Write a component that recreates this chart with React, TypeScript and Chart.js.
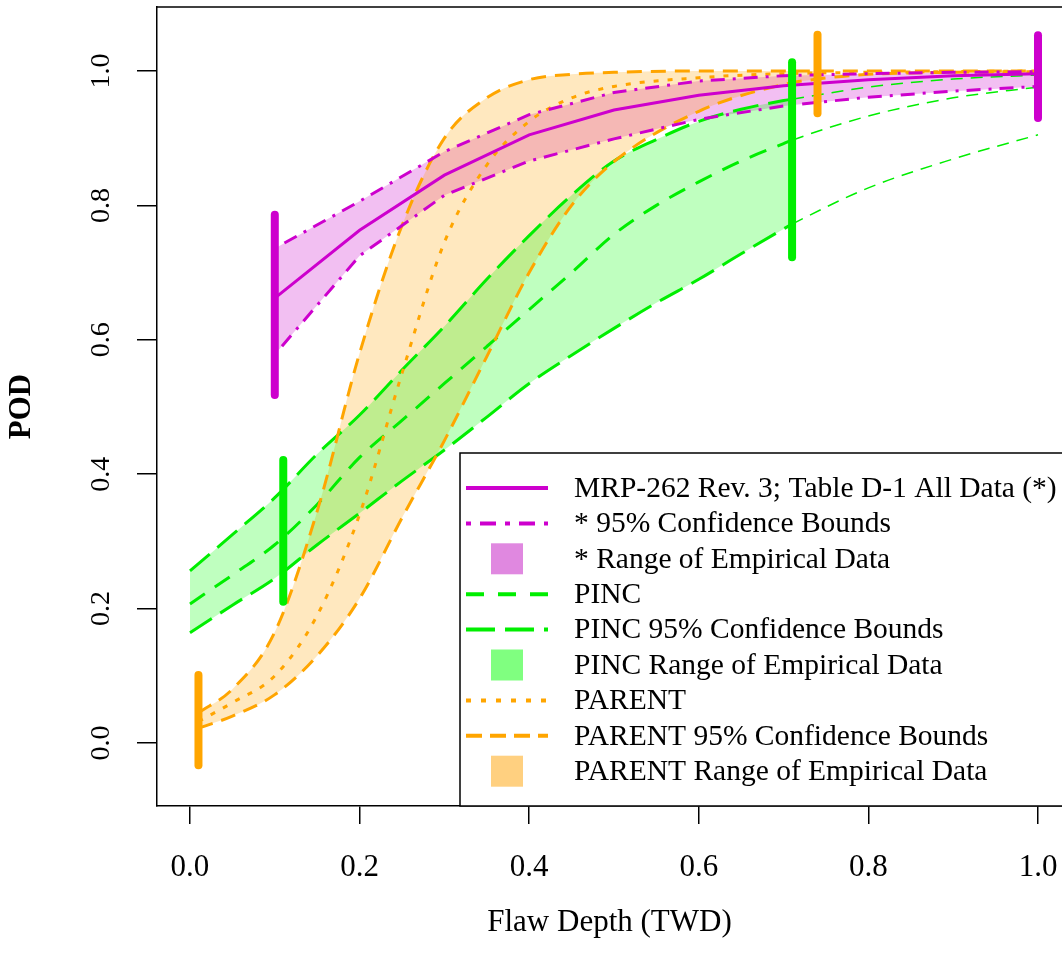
import React, { useEffect, useRef } from 'react';
import { Chart, registerables } from 'chart.js';

Chart.register(...registerables);

// ---------------- data ----------------
const X_TICKS = [0, 0.2, 0.4, 0.6, 0.8, 1.0];
const X_TICK_LABELS = ['0.0', '0.2', '0.4', '0.6', '0.8', '1.0'];
const Y_TICKS = [0, 0.2, 0.4, 0.6, 0.8, 1.0];
const Y_TICK_LABELS = ['0.0', '0.2', '0.4', '0.6', '0.8', '1.0'];

// MRP-262 Rev. 3; Table D-1 All Data
const MRP_X = [0.1, 0.2, 0.3, 0.4, 0.5, 0.6, 0.7, 0.8, 0.9, 1.0];
const MRP_POD = [0.662, 0.763, 0.845, 0.905, 0.942, 0.964, 0.978, 0.987, 0.993, 0.996];
const MRP_UPPER = [0.736, 0.806, 0.88, 0.935, 0.968, 0.985, 0.993, 0.996, 0.998, 0.999];
const MRP_LOWER = [0.578, 0.725, 0.815, 0.866, 0.899, 0.928, 0.948, 0.961, 0.97, 0.977];
const MRP_BAR_X = [0.1, 1.0];
const MRP_BAR_LO = [0.518, 0.93];
const MRP_BAR_HI = [0.786, 1.053];
const MRP_RANGE = [0.1, 1.0];

// PINC
const PINC_X = [0, 0.05, 0.1, 0.15, 0.2, 0.25, 0.3, 0.35, 0.4, 0.45, 0.5, 0.55, 0.6, 0.65, 0.7, 0.71, 0.8, 0.9, 1.0];
const PINC_POD = [0.207, 0.25, 0.295, 0.355, 0.425, 0.48, 0.535, 0.59, 0.645, 0.7, 0.757, 0.8, 0.835, 0.866, 0.892, 0.897, 0.933, 0.96, 0.976];
const PINC_UPPER = [0.256, 0.31, 0.365, 0.43, 0.488, 0.555, 0.62, 0.69, 0.755, 0.815, 0.866, 0.898, 0.925, 0.943, 0.956, 0.958, 0.976, 0.988, 0.994];
const PINC_LOWER = [0.164, 0.205, 0.245, 0.295, 0.342, 0.39, 0.436, 0.485, 0.535, 0.577, 0.617, 0.655, 0.69, 0.728, 0.765, 0.772, 0.826, 0.869, 0.905];
const PINC_BAR_X = [0.11, 0.71];
const PINC_BAR_LO = [0.21, 0.723];
const PINC_BAR_HI = [0.421, 1.013];
const PINC_RANGE = [0, 0.71];

// PARENT
const PARENT_X = [0.01, 0.05, 0.1, 0.15, 0.2, 0.25, 0.3, 0.35, 0.4, 0.45, 0.5, 0.6, 0.7, 0.74, 0.8, 0.9, 1.0];
const PARENT_POD = [0.032, 0.06, 0.1, 0.19, 0.34, 0.55, 0.745, 0.86, 0.925, 0.96, 0.977, 0.99, 0.996, 0.997, 0.998, 0.999, 1.0];
const PARENT_UPPER = [0.045, 0.08, 0.165, 0.345, 0.58, 0.77, 0.9, 0.96, 0.987, 0.995, 0.998, 1.0, 1.0, 1.0, 1.0, 1.0, 1.0];
const PARENT_LOWER = [0.022, 0.04, 0.072, 0.13, 0.215, 0.335, 0.45, 0.575, 0.7, 0.8, 0.865, 0.94, 0.98, 0.988, 0.995, 0.998, 0.999];
const PARENT_BAR_X = [0.01, 0.74];
const PARENT_BAR_LO = [-0.033, 0.937];
const PARENT_BAR_HI = [0.101, 1.054];
const PARENT_RANGE = [0.01, 0.74];

const LEGEND_LABELS = [
  'MRP-262 Rev. 3; Table D-1 All Data (*)',
  '* 95% Confidence Bounds',
  '* Range of Empirical Data',
  'PINC',
  'PINC 95% Confidence Bounds',
  'PINC Range of Empirical Data',
  'PARENT',
  'PARENT 95% Confidence Bounds',
  'PARENT Range of Empirical Data',
];

// ---------------- styles ----------------
const MAGENTA = '#CD00CD';
const GREEN = '#00EE00';
const ORANGE = '#FFA500';
const MAGENTA_FILL = 'rgba(205,0,205,0.25)';
const GREEN_FILL = 'rgba(0,255,0,0.25)';
const ORANGE_FILL = 'rgba(255,165,0,0.25)';
const MAGENTA_SWATCH = '#E088E0';
const GREEN_SWATCH = '#80FF80';
const ORANGE_SWATCH = '#FFD080';
const FONT = "'Liberation Serif', 'Times New Roman', serif";

const DASH_MRP_CI = [3, 8, 14, 8];
const DASH_PINC = [18, 12];
const DASH_PINC_CI = [26, 10];
const DASH_PARENT = [5, 9];
const DASH_PARENT_CI = [15, 9];
const DASH_THIN = [12, 8];

const pts = (xs: number[], ys: number[], range?: number[]) =>
  xs
    .map((x, i) => ({ x, y: ys[i] }))
    .filter((p) => !range || (p.x >= range[0] - 1e-9 && p.x <= range[1] + 1e-9));

const legendPlugin = {
  id: 'podLegend',
  afterDraw(chart: any) {
    const { ctx, chartArea: a } = chart;
    ctx.save();
    // top frame line
    ctx.strokeStyle = '#000';
    ctx.lineWidth = 1.5;
    ctx.beginPath();
    ctx.moveTo(a.left, a.top);
    ctx.lineTo(a.right, a.top);
    ctx.stroke();

    const bx = a.left + 303;
    const by = a.top + 446;
    ctx.fillStyle = '#fff';
    ctx.fillRect(bx, by, a.right - bx + 10, a.bottom - by);
    ctx.strokeStyle = '#000';
    ctx.lineWidth = 1.5;
    ctx.strokeRect(bx, by, a.right - bx + 20, a.bottom - by);

    const rowH = 35.4;
    const y0 = by + 35;
    const lx0 = bx + 6;
    const lx1 = bx + 88;
    const items: any[] = [
      { type: 'line', color: MAGENTA, dash: [], w: 4 },
      { type: 'line', color: MAGENTA, dash: [5, 9, 16, 9], w: 4 },
      { type: 'box', color: MAGENTA_SWATCH },
      { type: 'line', color: GREEN, dash: [18, 14], w: 4 },
      { type: 'line', color: GREEN, dash: [29, 10], w: 4 },
      { type: 'box', color: GREEN_SWATCH },
      { type: 'line', color: ORANGE, dash: [5, 10], w: 4 },
      { type: 'line', color: ORANGE, dash: [16, 8], w: 4 },
      { type: 'box', color: ORANGE_SWATCH },
    ];
    ctx.font = `29.5px ${FONT}`;
    ctx.textBaseline = 'middle';
    ctx.textAlign = 'left';
    items.forEach((it, i) => {
      const y = y0 + i * rowH;
      if (it.type === 'line') {
        ctx.strokeStyle = it.color;
        ctx.lineWidth = it.w;
        ctx.setLineDash(it.dash);
        ctx.lineCap = 'butt';
        ctx.beginPath();
        ctx.moveTo(lx0, y);
        ctx.lineTo(lx1, y);
        ctx.stroke();
        ctx.setLineDash([]);
      } else {
        ctx.fillStyle = it.color;
        ctx.fillRect(bx + 31, y - 15.5, 32, 31);
      }
      ctx.fillStyle = '#000';
      ctx.fillText(LEGEND_LABELS[i], bx + 114, y + 1);
    });
    ctx.restore();
  },
};

function App() {
  const ref = useRef<HTMLCanvasElement | null>(null);

  useEffect(() => {
    if (!ref.current) return;
    const datasets: any[] = [];
    const add = (d: any) => {
      datasets.push({
        type: 'line',
        pointRadius: 0,
        pointHoverRadius: 0,
        fill: false,
        tension: 0,
        ...d,
      });
      return datasets.length - 1;
    };

    // --- bands (drawn first)
    const band = (xs: number[], lo: number[], hi: number[], range: number[], color: string, smooth: boolean) => {
      const extra = smooth ? { cubicInterpolationMode: 'monotone' } : {};
      const li = add({ data: pts(xs, lo, range), borderColor: 'rgba(0,0,0,0)', borderWidth: 0, order: 20, ...extra });
      add({ data: pts(xs, hi, range), borderColor: 'rgba(0,0,0,0)', borderWidth: 0, fill: li, backgroundColor: color, order: 20, ...extra });
    };
    band(PINC_X, PINC_LOWER, PINC_UPPER, PINC_RANGE, GREEN_FILL, true);
    band(PARENT_X, PARENT_LOWER, PARENT_UPPER, PARENT_RANGE, ORANGE_FILL, true);
    band(MRP_X, MRP_LOWER, MRP_UPPER, MRP_RANGE, MAGENTA_FILL, false);

    // --- PINC lines (thin beyond the empirical range)
    const pincSeg = (dash: number[]) => ({
      borderWidth: (c: any) => (c.p0.parsed.x >= PINC_RANGE[1] - 1e-9 ? 1.5 : 3),
      borderDash: (c: any) => (c.p0.parsed.x >= PINC_RANGE[1] - 1e-9 ? DASH_THIN : dash),
    });
    add({ data: pts(PINC_X, PINC_POD), borderColor: GREEN, borderWidth: 3, borderDash: DASH_PINC, cubicInterpolationMode: 'monotone', segment: pincSeg(DASH_PINC), order: 10 });
    add({ data: pts(PINC_X, PINC_UPPER), borderColor: GREEN, borderWidth: 3, borderDash: DASH_PINC_CI, cubicInterpolationMode: 'monotone', segment: pincSeg(DASH_PINC_CI), order: 10 });
    add({ data: pts(PINC_X, PINC_LOWER), borderColor: GREEN, borderWidth: 3, borderDash: DASH_PINC_CI, cubicInterpolationMode: 'monotone', segment: pincSeg(DASH_PINC_CI), order: 10 });

    // --- PARENT lines
    add({ data: pts(PARENT_X, PARENT_POD), borderColor: ORANGE, borderWidth: 3, borderDash: DASH_PARENT, cubicInterpolationMode: 'monotone', order: 9 });
    add({ data: pts(PARENT_X, PARENT_UPPER), borderColor: ORANGE, borderWidth: 3, borderDash: DASH_PARENT_CI, cubicInterpolationMode: 'monotone', order: 9 });
    add({ data: pts(PARENT_X, PARENT_LOWER), borderColor: ORANGE, borderWidth: 3, borderDash: DASH_PARENT_CI, cubicInterpolationMode: 'monotone', order: 9 });

    // --- MRP lines
    add({ data: pts(MRP_X, MRP_POD), borderColor: MAGENTA, borderWidth: 3, order: 8 });
    add({ data: pts(MRP_X, MRP_UPPER), borderColor: MAGENTA, borderWidth: 3, borderDash: DASH_MRP_CI, order: 8 });
    add({ data: pts(MRP_X, MRP_LOWER), borderColor: MAGENTA, borderWidth: 3, borderDash: DASH_MRP_CI, order: 8 });

    // --- empirical range bars
    const bars = (xs: number[], lo: number[], hi: number[], color: string) => {
      xs.forEach((x, i) => {
        add({
          data: [
            { x, y: lo[i] },
            { x, y: hi[i] },
          ],
          borderColor: color,
          borderWidth: 8,
          borderCapStyle: 'round',
          order: 1,
        });
      });
    };
    bars(PINC_BAR_X, PINC_BAR_LO, PINC_BAR_HI, GREEN);
    bars(PARENT_BAR_X, PARENT_BAR_LO, PARENT_BAR_HI, ORANGE);
    bars(MRP_BAR_X, MRP_BAR_LO, MRP_BAR_HI, MAGENTA);

    const chart = new Chart(ref.current, {
      type: 'line',
      data: { datasets },
      plugins: [legendPlugin],
      options: {
        animation: false,
        responsive: false,
        events: [],
        layout: { padding: { top: 7, left: 0, right: 0, bottom: 0 } },
        plugins: { legend: { display: false }, tooltip: { enabled: false } },
        scales: {
          x: {
            type: 'linear',
            min: -0.0389,
            max: 1.0283,
            afterBuildTicks: (s: any) => {
              s.ticks = X_TICKS.map((v) => ({ value: v }));
            },
            afterFit: (s: any) => {
              s.height = 149;
              s.paddingLeft = 0;
              s.paddingRight = 0;
            },
            ticks: {
              autoSkip: false,
              maxRotation: 0,
              minRotation: 0,
              padding: 25,
              color: '#000',
              font: { family: FONT, size: 31 },
              callback: (_v: any, i: number) => X_TICK_LABELS[i],
            },
            grid: { drawOnChartArea: false, drawTicks: true, tickLength: 18, color: '#000', lineWidth: 1.5 },
            border: { display: true, color: '#000', width: 1.5 },
            title: {
              display: true,
              text: 'Flaw Depth (TWD)',
              color: '#000',
              font: { family: FONT, size: 31 },
              padding: { top: 0, bottom: 14 },
            },
          },
          y: {
            type: 'linear',
            min: -0.09375,
            max: 1.0952,
            afterBuildTicks: (s: any) => {
              s.ticks = Y_TICKS.map((v) => ({ value: v }));
            },
            afterFit: (s: any) => {
              s.width = 157;
              s.paddingTop = 0;
              s.paddingBottom = 0;
            },
            ticks: {
              autoSkip: false,
              minRotation: 90,
              maxRotation: 90,
              crossAlign: 'center',
              padding: 18,
              color: '#000',
              font: { family: FONT, size: 28 },
              callback: (_v: any, i: number) => Y_TICK_LABELS[i],
            },
            grid: { drawOnChartArea: false, drawTicks: true, tickLength: 20, color: '#000', lineWidth: 1.5 },
            border: { display: true, color: '#000', width: 1.5 },
            title: {
              display: true,
              text: 'POD',
              color: '#000',
              font: { family: FONT, size: 31, weight: 'bold' },
              padding: { top: 3, bottom: 0 },
            },
          },
        },
      } as any,
    });
    return () => chart.destroy();
  }, []);

  return (
    <div style={{ position: 'absolute', left: 0, top: 0, width: 1062, height: 955, overflow: 'hidden', background: '#fff' }}>
      <canvas ref={ref} width={1062} height={955} style={{ display: 'block' }} />
    </div>
  );
}

export default App;
